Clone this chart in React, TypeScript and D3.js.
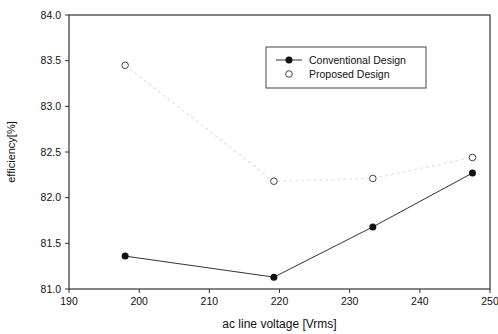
import React from 'react';
import * as d3 from 'd3';

const voltages = [198, 219.2, 233.3, 247.5];
const conventional = [81.36, 81.13, 81.68, 82.27];
const proposed = [83.45, 82.18, 82.21, 82.44];
const xTicks = [190, 200, 210, 220, 230, 240, 250];
const yTicks = [81.0, 81.5, 82.0, 82.5, 83.0, 83.5, 84.0];

const W = 498;
const H = 334;
const margin = { top: 15, right: 8, bottom: 45, left: 69 };
const font = 'Arial, "Liberation Sans", sans-serif';

export default function App() {
  const x = d3.scaleLinear().domain([190, 250]).range([margin.left, W - margin.right]);
  const y = d3.scaleLinear().domain([81, 84]).range([H - margin.bottom, margin.top]);

  const line = d3.line<number>()
    .x((_, i) => x(voltages[i]))
    .y(d => y(d));

  const bottom = H - margin.bottom;

  return (
    <svg width={W} height={H} style={{ position: 'absolute', left: 0, top: 0, background: '#fff' }}>
      {/* frame */}
      <rect x={margin.left} y={margin.top} width={x(250) - x(190)} height={bottom - margin.top}
        fill="none" stroke="#333" strokeWidth={1.2} />

      {/* x axis ticks */}
      {xTicks.map(t => (
        <g key={'x' + t}>
          <line x1={x(t)} x2={x(t)} y1={bottom} y2={bottom + 4} stroke="#333" />
          <text x={x(t)} y={bottom + 16} textAnchor="middle" fontFamily={font} fontSize={10.5} fill="#111">{t}</text>
        </g>
      ))}

      {/* y axis ticks */}
      {yTicks.map(t => (
        <g key={'y' + t}>
          <line x1={margin.left - 4} x2={margin.left} y1={y(t)} y2={y(t)} stroke="#333" />
          <text x={margin.left - 8} y={y(t) + 3.5} textAnchor="end" fontFamily={font} fontSize={10.5} fill="#111">{t.toFixed(1)}</text>
        </g>
      ))}

      {/* axis titles */}
      <text x={(x(190) + x(250)) / 2} y={H - 6} textAnchor="middle" fontFamily={font} fontSize={12} fill="#111">ac line voltage [Vrms]</text>
      <text transform={`translate(15, ${(margin.top + bottom) / 2}) rotate(-90)`} textAnchor="middle"
        fontFamily={font} fontSize={11} fill="#111">efficiency[%]</text>

      {/* proposed design: faint dotted line + open circles */}
      <path d={line(proposed) || ''} fill="none" stroke="#e6e6e6" strokeWidth={1.5} strokeDasharray="3,3" />
      {proposed.map((v, i) => (
        <circle key={'p' + i} cx={x(voltages[i])} cy={y(v)} r={3.3} fill="#fff" stroke="#444" strokeWidth={1} />
      ))}

      {/* conventional design */}
      <path d={line(conventional) || ''} fill="none" stroke="#333" strokeWidth={1} />
      {conventional.map((v, i) => (
        <circle key={'c' + i} cx={x(voltages[i])} cy={y(v)} r={3.5} fill="#111" />
      ))}

      {/* legend */}
      <rect x={266} y={47} width={160} height={41} fill="#fff" stroke="#444" strokeWidth={1} />
      <line x1={276} x2={302} y1={60} y2={60} stroke="#333" />
      <circle cx={289} cy={60} r={3.5} fill="#111" />
      <text x={309} y={64} fontFamily={font} fontSize={10.5} fill="#111">Conventional Design</text>
      <circle cx={289} cy={74} r={3.3} fill="#fff" stroke="#444" />
      <text x={309} y={78} fontFamily={font} fontSize={10.5} fill="#111">Proposed Design</text>
    </svg>
  );
}
